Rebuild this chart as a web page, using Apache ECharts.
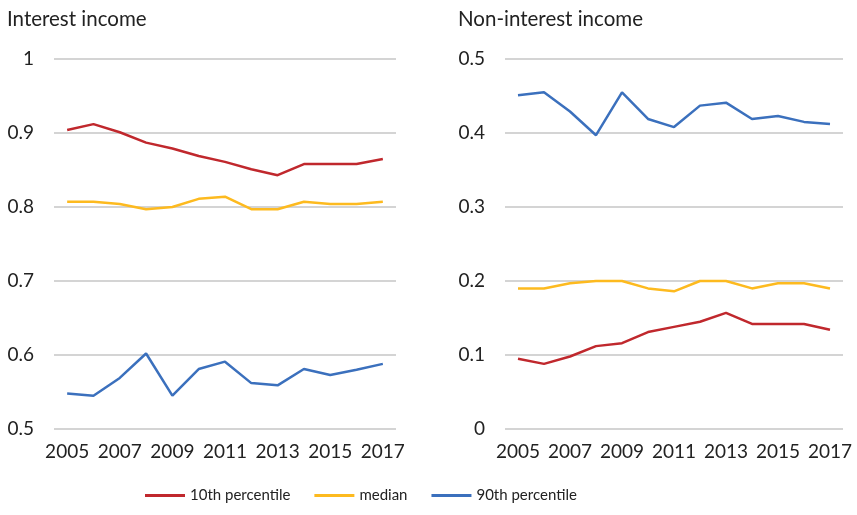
<!DOCTYPE html>
<html><head><meta charset="utf-8">
<script src="https://cdn.jsdelivr.net/npm/echarts@6/dist/echarts.min.js"></script>
<style>html,body{margin:0;padding:0;background:#fff}#c{width:857px;height:515px}</style>
</head><body><div id="c"></div>
<script>
const years = ['2005','2006','2007','2008','2009','2010','2011','2012','2013','2014','2015','2016','2017'];
const interestP10 = [0.904,0.912,0.901,0.887,0.879,0.869,0.861,0.851,0.843,0.858,0.858,0.858,0.865];
const interestMedian = [0.807,0.807,0.804,0.797,0.800,0.811,0.814,0.797,0.797,0.807,0.804,0.804,0.807];
const interestP90 = [0.548,0.545,0.569,0.602,0.545,0.581,0.591,0.562,0.559,0.581,0.573,0.580,0.588];
const nonInterestP10 = [0.095,0.088,0.098,0.112,0.116,0.131,0.138,0.145,0.157,0.142,0.142,0.142,0.134];
const nonInterestMedian = [0.190,0.190,0.197,0.200,0.200,0.190,0.186,0.200,0.200,0.190,0.197,0.197,0.190];
const nonInterestP90 = [0.451,0.455,0.429,0.397,0.455,0.419,0.408,0.437,0.441,0.419,0.423,0.415,0.412];
const seriesNames = ['10th percentile','median','90th percentile'];
const colors = ['#C0282D','#FDBA1F','#3B70BD'];

const font = 'Lato, "Open Sans", sans-serif';
const chart = echarts.init(document.getElementById('c'));
const xAxisBase = (gi) => ({
  type:'category', gridIndex:gi, data:years, boundaryGap:true,
  axisLine:{show:false}, axisTick:{show:false},
  axisLabel:{interval:1, color:'#222', fontSize:19, fontFamily:font, margin:13}
});
const yAxisBase = (gi,min,max) => ({
  type:'value', gridIndex:gi, min:min, max:max, interval:0.1,
  axisLine:{show:false}, axisTick:{show:false},
  splitLine:{lineStyle:{color:'#D4D4D4', width:2}},
  axisLabel:{color:'#222', fontSize:19, fontFamily:font, margin:20,
    formatter:(v)=>String(+v.toFixed(2))}
});
const mk = (name,data,i,xi) => ({
  name:name, type:'line', data:data, xAxisIndex:xi, yAxisIndex:xi,
  symbol:'none', lineStyle:{width:2.5, color:colors[i]}, itemStyle:{color:colors[i]}
});
chart.setOption({
  animation:false,
  title:[
    {text:'Interest income', left:2, top:4, textStyle:{fontSize:20.5, fontWeight:'normal', color:'#222', fontFamily:font}},
    {text:'Non-interest income', left:453, top:4, textStyle:{fontSize:20.5, fontWeight:'normal', color:'#222', fontFamily:font}}
  ],
  legend:{bottom:7, left:140, itemWidth:40, itemHeight:3, itemGap:24,
    icon:'rect',
    textStyle:{fontSize:15, color:'#222', fontFamily:font},
    data:seriesNames},
  grid:[
    {left:54, right:461, top:59, bottom:86},
    {left:505, right:14, top:59, bottom:86}
  ],
  xAxis:[xAxisBase(0), xAxisBase(1)],
  yAxis:[yAxisBase(0,0.5,1), yAxisBase(1,0,0.5)],
  series:[
    mk(seriesNames[0],interestP10,0,0),
    mk(seriesNames[1],interestMedian,1,0),
    mk(seriesNames[2],interestP90,2,0),
    mk(seriesNames[0],nonInterestP10,0,1),
    mk(seriesNames[1],nonInterestMedian,1,1),
    mk(seriesNames[2],nonInterestP90,2,1)
  ]
});
</script></body></html>
